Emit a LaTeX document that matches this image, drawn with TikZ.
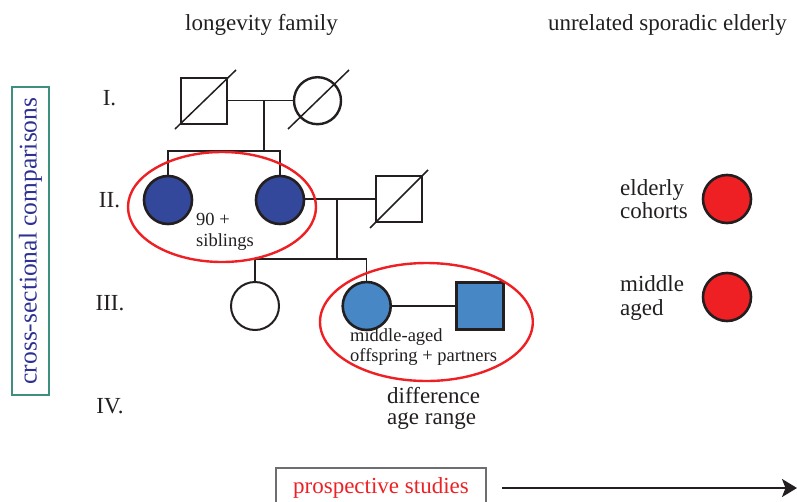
\documentclass[tikz,border=0pt]{standalone}
\usepackage{fontspec}
\setmainfont{Liberation Serif}
\usetikzlibrary{arrows.meta}
\definecolor{dblue}{HTML}{33479B}
\definecolor{lblue}{HTML}{4787C6}
\definecolor{myred}{HTML}{EE2024}
\definecolor{tealb}{HTML}{3F8F7F}
\definecolor{navy}{HTML}{2E3192}
\definecolor{ink}{HTML}{231F20}
\definecolor{boxgray}{HTML}{6D6E71}
\begin{document}
\begin{tikzpicture}[x=1pt,y=-1pt,
  txt/.style={font=\fontsize{23}{25}\selectfont, text=ink, inner sep=0pt, anchor=base},
  txtw/.style={font=\fontsize{23}{25}\selectfont, text=ink, inner sep=0pt, anchor=base west},
  small/.style={font=\fontsize{18.5}{20.5}\selectfont, text=ink, inner sep=0pt, anchor=base west},
  male/.style={draw=ink, line width=2pt, rectangle, minimum size=46pt, inner sep=0pt},
  female/.style={draw=ink, line width=2pt, circle, minimum size=47pt, inner sep=0pt},
  link/.style={draw=ink, line width=1.5pt},
  dead/.style={draw=ink, line width=1.5pt},
  grp/.style={draw=myred, line width=2.4pt}
]
\useasboundingbox (0,0) rectangle (797,501);
\clip (0,0) rectangle (797,501);

% headings
\node[txt] (hfam) at (261.5,30) {longevity family};
\node[txt] (hunrel) at (667.5,30) {unrelated sporadic elderly};

% generation labels
\node[txt] (gI) at (109.5,105) {I.};
\node[txt] (gII) at (109.5,207) {II.};
\node[txt] (gIII) at (110,310) {III.};
\node[txt] (gIV) at (110,413) {IV.};

% generation I
\node[male] (m1) at (204.3,100.5) {};
\node[female, line width=2.4pt] (f1) at (317.5,100.7) {};
\draw[dead] (175,129) -- (236,70);
\draw[dead] (288,129) -- (349,70);
\coordinate (c1) at (264,100.7);
\coordinate (s1) at (264,151);
\draw[link] (m1.east |- c1) -- (f1.west |- c1);
\draw[link] (c1) -- (s1);

% generation II
\node[female, fill=dblue, line width=2.6pt, minimum size=48pt] (f2a) at (168,200) {};
\node[female, fill=dblue, line width=2.6pt, minimum size=48pt] (f2b) at (280,200) {};
\node[male] (m2) at (399,198.5) {};
\draw[dead] (370,228) -- (428,170);
\draw[link] (f2a.north) -- (f2a.north |- s1) -- (f2b.north |- s1) -- (f2b.north);
\coordinate (c2) at (337,199);
\coordinate (s2) at (337,259);
\draw[link] (f2b.east |- c2) -- (m2.west |- c2);
\draw[link] (c2) -- (s2);

% generation III
\node[female, minimum size=48pt] (f3a) at (255,306) {};
\node[female, fill=lblue, line width=2.6pt, minimum size=48pt] (f3b) at (366.7,306) {};
\node[male, fill=lblue, line width=2.6pt, minimum size=47pt] (m3) at (480,306) {};
\draw[link] (f3a.north) -- (f3a.north |- s2) -- (f3b.north |- s2) -- (f3b.north);
\draw[link] (f3b.east |- m3.west) -- (m3.west);

% groups
\draw[grp] (222,207) ellipse [x radius=94, y radius=55];
\draw[grp] (426.4,322) ellipse [x radius=106.4, y radius=59];

\node[small] (t90) at (196,225) {90 +};
\node[small] (tsib) at (196,246) {siblings};
\node[small] (tmid) at (350,341.7) {middle-aged};
\node[small] (toff) at (350,361.7) {offspring + partners};

\node[txtw] (tdiff) at (387,403.3) {difference};
\node[txtw] (tage) at (387,424) {age range};

% unrelated
\node[txtw] (tel) at (620,195) {elderly};
\node[txtw] (tco) at (620,218.3) {cohorts};
\node[txtw] (tmi) at (620,291.7) {middle};
\node[txtw] (tag) at (620,315) {aged};
\node[female, fill=myred, line width=2.6pt, minimum size=48pt] (r1) at (727,199) {};
\node[female, fill=myred, line width=2.6pt, minimum size=48pt] (r2) at (727,297) {};

% cross-sectional box
\node[draw=tealb, line width=1.5pt, rotate=90, minimum width=308pt, minimum height=37pt, inner sep=0pt,
      font=\fontsize{25.5}{27}\selectfont, text=navy] (cross) at (30.5,241) {cross-sectional comparisons};

% prospective studies
\node[draw=boxgray, line width=1.3pt, minimum width=210pt, minimum height=40pt, inner sep=0pt,
      font=\fontsize{23}{25}\selectfont, text=myred] (prosp) at (381,488) {prospective studies};
\coordinate (astart) at (502,488);
\coordinate (aend) at (797,488);
\draw[ink, line width=2.2pt, -{Stealth[length=15pt,width=18pt,inset=3.5pt]}] (astart) -- (aend);
\end{tikzpicture}
\end{document}
